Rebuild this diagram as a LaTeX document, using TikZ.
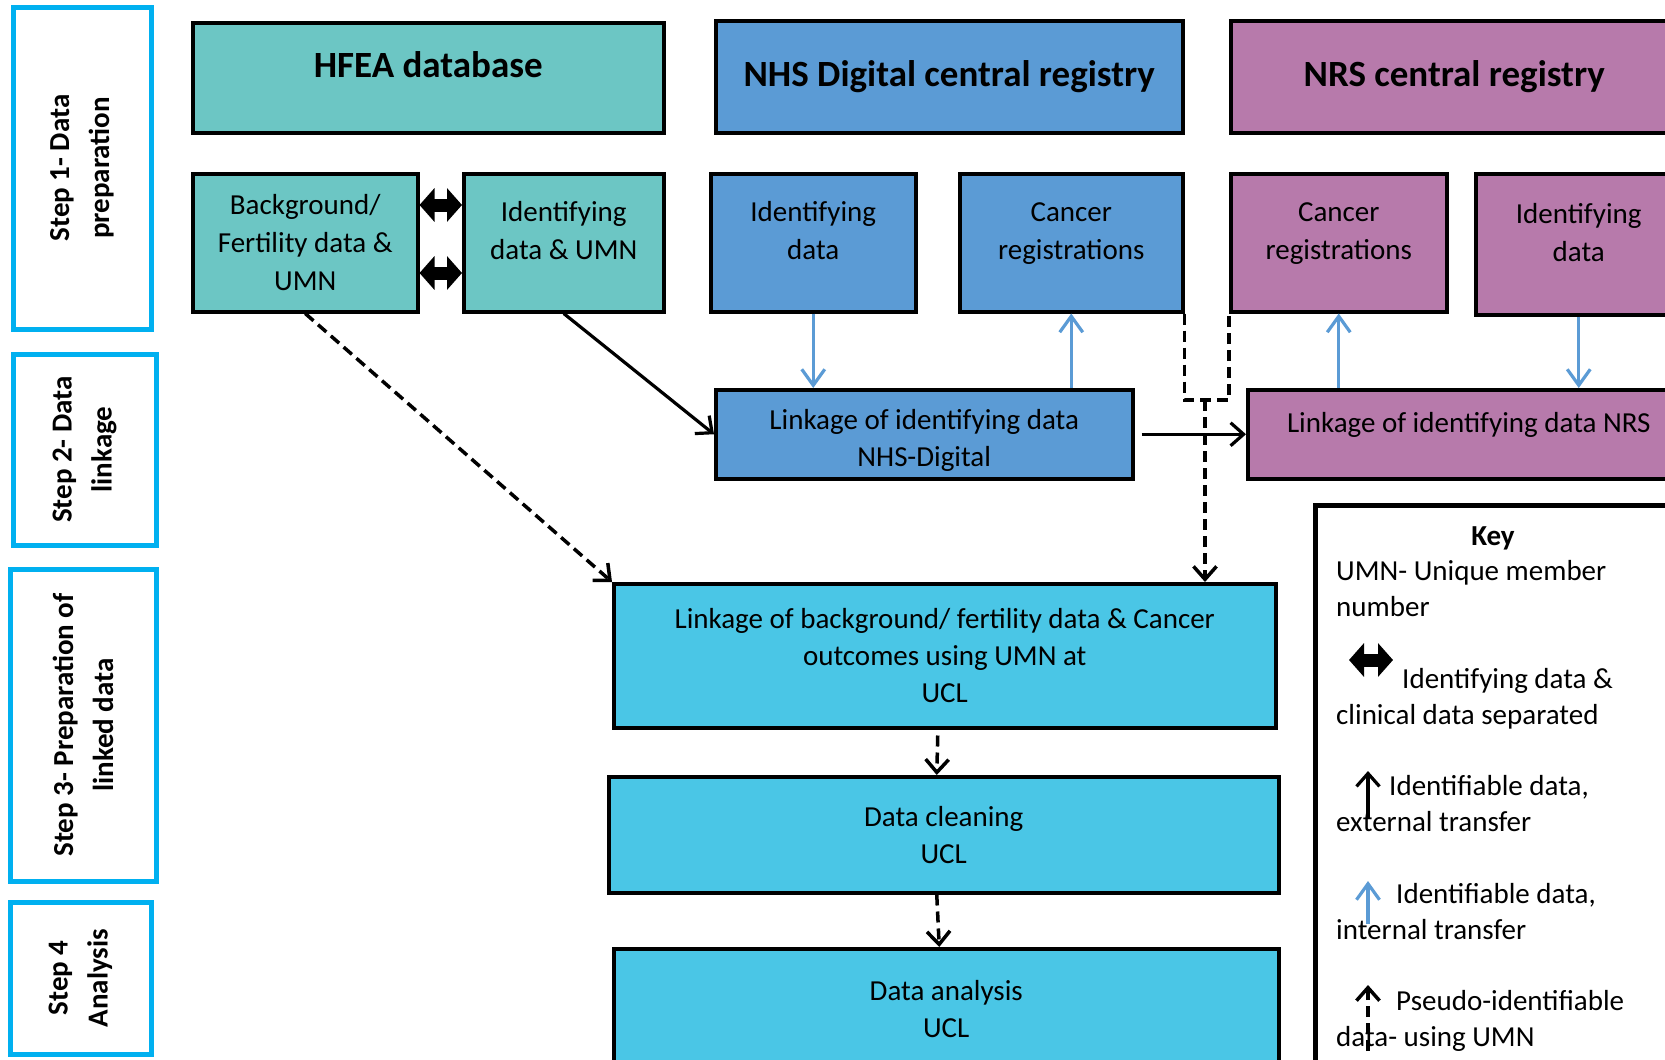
\documentclass[tikz,border=0pt]{standalone}
\usepackage{fontspec}
\setmainfont{Carlito}
\usetikzlibrary{arrows.meta}
\definecolor{hfeacol}{HTML}{6CC6C4}
\definecolor{nhscol}{HTML}{5B9BD5}
\definecolor{nrscol}{HTML}{B77AAB}
\definecolor{uclcol}{HTML}{4AC6E6}
\definecolor{stepcol}{HTML}{00B0F0}
\begin{document}
\begin{tikzpicture}[x=1pt,y=-1pt,
  box/.style={rectangle,draw,line width=3.5pt,anchor=north west,inner sep=0pt,align=center,font=\fontsize{29}{37}\selectfont},
  headbox/.style={box,font=\fontsize{37}{44}\selectfont\bfseries},
  srcbox/.style={box,minimum height=138,font=\fontsize{29}{38}\selectfont,text depth=24pt},
  stepbox/.style={rectangle,draw=stepcol,line width=5pt,fill=white,rotate=90,inner sep=0pt,align=center,font=\fontsize{29}{40}\selectfont\bfseries},
  keytext/.style={anchor=base west,inner sep=0pt,font=\fontsize{29}{36}\selectfont},
  fat/.style={line width=13pt,{Triangle[length=15pt,width=33pt]}-{Triangle[length=15pt,width=33pt]}},
  linkarr/.style={line width=3.2pt,-{Straight Barb[length=13pt,width=23pt]}},
  bluearr/.style={nhscol,line width=3.2pt,-{Straight Barb[length=16pt,width=23pt]}},
  dashline/.style={line width=3.5pt,dash pattern=on 11pt off 6pt},
  dasharr/.style={dashline,-{Straight Barb[length=13pt,width=23pt]}}]
\path[use as bounding box] (0,0) rectangle (1665,1060);
\clip (0,0) rectangle (1665,1060);
\node[stepbox,minimum width=322,minimum height=138] (step1) at (82,168) {Step 1- Data\\preparation};
\node[stepbox,minimum width=191,minimum height=143] (step2) at (84.5,449.5) {Step 2- Data\\linkage};
\node[stepbox,minimum width=312,minimum height=146] (step3) at (83,725) {Step 3- Preparation of\\linked data};
\node[stepbox,minimum width=152,minimum height=141] (step4) at (80.5,978) {Step 4\\Analysis};
\node[headbox,fill=hfeacol,minimum width=471,minimum height=110,text depth=26pt] (hfea) at (191,21) {HFEA database};
\node[headbox,fill=nhscol,minimum width=467,minimum height=112] (nhs) at (714,19) {NHS Digital central registry};
\node[headbox,fill=nrscol,minimum width=447,minimum height=112] (nrs) at (1229,19) {NRS central registry};
\node[box,fill=hfeacol,minimum width=225,minimum height=138,font=\fontsize{29}{38}\selectfont] (bg) at (191,172) {Background/\\Fertility data \&\\UMN};
\node[srcbox,fill=hfeacol,minimum width=200] (idumn) at (462,172) {Identifying\\data \& UMN};
\node[srcbox,fill=nhscol,minimum width=205] (nhsid) at (709,172) {Identifying\\data};
\node[srcbox,fill=nhscol,minimum width=223] (nhscan) at (958,172) {Cancer\\registrations};
\node[srcbox,fill=nrscol,minimum width=216] (nrscan) at (1229,172) {Cancer\\registrations};
\node[srcbox,fill=nrscol,minimum width=206,minimum height=141] (nrsid) at (1474,172) {Identifying\\data};
\node[box,fill=nhscol,minimum width=417,minimum height=89,text height=70pt] (nhslink) at (714,388) {Linkage of identifying data\\NHS-Digital};
\node[box,fill=nrscol,minimum width=442,minimum height=89,text depth=24pt] (nrslink) at (1246,388) {Linkage of identifying data NRS};
\node[box,fill=uclcol,minimum width=662,minimum height=144] (ucllink) at (612,582) {Linkage of background/ fertility data \& Cancer\\outcomes using UMN at\\UCL};
\node[box,fill=uclcol,minimum width=670,minimum height=116] (clean) at (607,775) {Data cleaning\\UCL};
\node[box,fill=uclcol,minimum width=665,minimum height=120] (anal) at (612,947) {Data analysis\\UCL};
\node[box,line width=4.5pt,minimum width=400,minimum height=600] (key) at (1313,503) {};
\draw[fat] (bg.east |- 0,205) -- (idumn.west |- 0,205);
\draw[fat] (bg.east |- 0,273) -- (idumn.west |- 0,273);
\draw[bluearr] (nhsid.south) -- (nhsid.south |- nhslink.north);
\draw[bluearr] (nhscan.south |- nhslink.north) -- (nhscan.south);
\draw[bluearr] (nrscan.south |- nrslink.north) -- (nrscan.south);
\draw[bluearr] (nrsid.south) -- (nrsid.south |- nrslink.north);
\draw[linkarr] (idumn.south) -- (nhslink.west);
\draw[linkarr] ([xshift=7pt]nhslink.east) -- (nrslink.west);
\draw[dasharr] (bg.south) -- (ucllink.north west);
\coordinate (junc) at (1205,400);
\draw[dashline] (nhscan.south east) |- (junc) -| (nrscan.south west);
\draw[dasharr] (junc) -- (junc |- ucllink.north);
\draw[dasharr] ([xshift=-7pt,yshift=-6pt]ucllink.south) -- ([xshift=-7pt]clean.north);
\draw[dasharr] ([xshift=-7pt]clean.south) -- ([xshift=-7pt]anal.north);
\node[keytext,anchor=base] (keyhead) at (1493,545) {\bfseries Key};
\node[keytext] (umn1) at (1336,580) {UMN- Unique member};
\node[keytext] (umn2) at (1336,616) {number};
\draw[fat] (1349,660) -- (1393,660);
\node[keytext] (sep1) at (1402,688) {Identifying data \&};
\node[keytext] (sep2) at (1336,724) {clinical data separated};
\draw[linkarr] (1368,818) -- (1368,771);
\node[keytext] (ext1) at (1389,795) {Identifiable data,};
\node[keytext] (ext2) at (1336,831) {external transfer};
\draw[bluearr] (1368,924) -- (1368,881);
\node[keytext] (int1) at (1396,903) {Identifiable data,};
\node[keytext] (int2) at (1336,939) {internal transfer};
\draw[dasharr] (1368,1051) -- (1368,985);
\node[keytext] (pse1) at (1396,1010) {Pseudo-identifiable};
\node[keytext] (pse2) at (1336,1046) {data- using UMN};
\end{tikzpicture}
\end{document}
